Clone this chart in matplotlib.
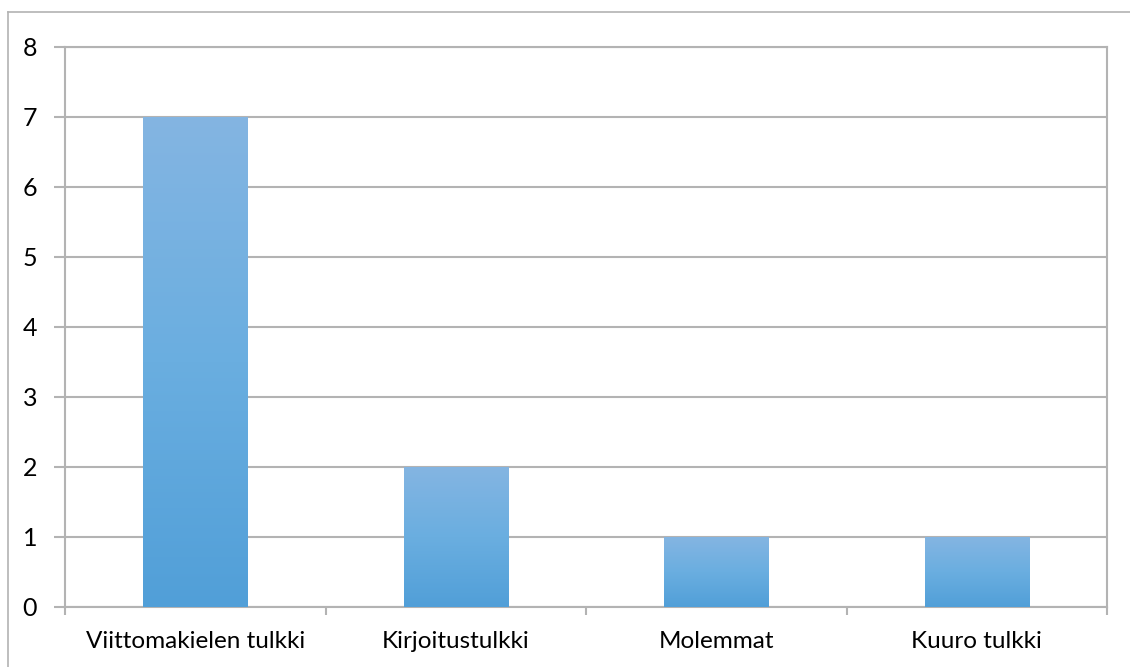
import numpy as np
import matplotlib.pyplot as plt
from matplotlib.colors import LinearSegmentedColormap

categories = ['Viittomakielen tulkki', 'Kirjoitustulkki', 'Molemmat', 'Kuuro tulkki']
values = [7, 2, 1, 1]
yticks = [0, 1, 2, 3, 4, 5, 6, 7, 8]

W, H = 1130, 667
fig = plt.figure(figsize=(W / 100, H / 100), dpi=100)
plt.rcParams['font.family'] = ['Lato', 'DejaVu Sans']

grid_c = '#b3b3b3'

# outer chart border
fig.add_artist(plt.Line2D([8 / W, 8 / W], [0, 1 - 12 / H], transform=fig.transFigure, color=grid_c, lw=1.2))
fig.add_artist(plt.Line2D([8 / W, 1], [1 - 12 / H, 1 - 12 / H], transform=fig.transFigure, color=grid_c, lw=1.2))

ax = fig.add_axes([65 / W, 1 - 607 / H, (1107 - 65) / W, (607 - 47) / H])
x = np.arange(len(categories))
bars = ax.bar(x, values, width=0.4, color='none', edgecolor='none', zorder=3)

cmap = LinearSegmentedColormap.from_list('g', ['#519fd8', '#6aaee0', '#84b5e2'])
grad = np.linspace(0, 1, 256).reshape(-1, 1)
for b in bars:
    x0, y0 = b.get_x(), b.get_y()
    im = ax.imshow(grad, cmap=cmap, aspect='auto', origin='lower',
                   extent=[x0, x0 + b.get_width(), y0, y0 + b.get_height()], zorder=3)
    im.set_clip_path(b)

ax.set_xlim(-0.5, len(categories) - 0.5)
ax.set_ylim(0, 8)
ax.set_yticks(yticks)
ax.set_yticklabels([str(t) for t in yticks], fontsize=18)
ax.yaxis.grid(True, color=grid_c, lw=1.5, zorder=0)
ax.set_axisbelow(True)

ax.set_xticks(x)
ax.set_xticklabels(categories, fontsize=17.5)
ax.set_xticks(np.arange(-0.5, len(categories)), minor=True)
ax.tick_params(axis='x', which='major', length=0, pad=17)
ax.tick_params(axis='x', which='minor', length=6, width=1.5, color=grid_c)
ax.tick_params(axis='y', length=8, width=1.5, color=grid_c, pad=12)

for s in ['left', 'bottom', 'right', 'top']:
    ax.spines[s].set_color(grid_c)
    ax.spines[s].set_linewidth(1.5)

fig.savefig('out.png', dpi=100, facecolor='white')
